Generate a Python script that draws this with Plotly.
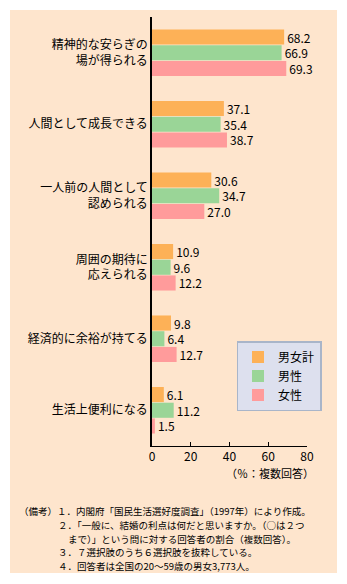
import plotly.graph_objects as go

categories = [
    "精神的な安らぎの<br>場が得られる",
    "人間として成長できる",
    "一人前の人間として<br>認められる",
    "周囲の期待に<br>応えられる",
    "経済的に余裕が持てる",
    "生活上便利になる",
]
series_names = ["男女計", "男性", "女性"]
total = [68.2, 37.1, 30.6, 10.9, 9.8, 6.1]
male = [66.9, 35.4, 34.7, 9.6, 6.4, 11.2]
female = [69.3, 38.7, 27.0, 12.2, 12.7, 1.5]
x_ticks = [0, 20, 40, 60, 80]
notes = [
    "（備考）１．内閣府「国民生活選好度調査」（1997年）により作成。",
    "２．「一般に、結婚の利点は何だと思いますか。（○は２つ",
    "まで）」という問に対する回答者の割合（複数回答）。",
    "３．７選択肢のうち６選択肢を抜粋している。",
    "４．回答者は全国の20～59歳の男女3,773人。",
]

colors = ["#FDB157", "#9AD597", "#FF9B9B"]
FONT = "Noto Sans CJK JP"
W, H = 347, 584

def px(x):
    return x / W

def py(y):
    return 1 - y / H

fig = go.Figure()
for name, vals, col in zip(series_names, [total, male, female], colors):
    fig.add_trace(go.Bar(
        y=categories, x=vals, name=name, orientation="h",
        marker=dict(color=col, line=dict(width=0)),
        texttemplate="%{x:.1f}", textposition="outside",
        textfont=dict(family=FONT, size=12, color="black"),
        constraintext="none", cliponaxis=False,
    ))

fig.add_shape(type="rect", xref="paper", yref="paper",
              x0=px(10), x1=px(337), y0=py(573), y1=py(10),
              fillcolor="#FEE5CD", line=dict(width=0), layer="below")

fig.add_annotation(text="（％：複数回答）", xref="paper", yref="paper",
                   x=px(316), y=py(473), xanchor="right", yanchor="middle",
                   showarrow=False, font=dict(family=FONT, size=11, color="black"))

note_x = [17, 56, 66, 56, 56]
note_y = [511, 524.8, 538.6, 552.4, 566.2]
for t, nx, ny in zip(notes, note_x, note_y):
    fig.add_annotation(text=t, xref="paper", yref="paper",
                       x=px(nx), y=py(ny), xanchor="left", yanchor="middle",
                       showarrow=False, font=dict(family=FONT, size=9.5, color="black"))

fig.update_layout(
    width=W, height=H,
    margin=dict(l=0, r=0, t=0, b=0),
    paper_bgcolor="white", plot_bgcolor="rgba(0,0,0,0)",
    barmode="group", bargap=0.34, bargroupgap=0.04,
    font=dict(family=FONT, size=12, color="black"),
    showlegend=True,
    legend=dict(x=px(279), y=py(376), xanchor="center", yanchor="middle",
                bgcolor="#DDE0EE", bordercolor="#A9B5C9", borderwidth=1.5,
                font=dict(family=FONT, size=12, color="black"),
                itemwidth=30, tracegroupgap=0, traceorder="normal"),
    xaxis=dict(domain=[px(152), px(307)], range=[0, 80], tickvals=x_ticks,
               showgrid=False, zeroline=False, showline=True, linecolor="black",
               linewidth=1, ticks="inside", ticklen=4, tickcolor="black",
               tickfont=dict(family=FONT, size=12, color="black"),
               automargin=False, fixedrange=True),
    yaxis=dict(domain=[py(446), py(17)], autorange="reversed",
               showgrid=False, zeroline=False, showline=True, linecolor="black",
               linewidth=1.5, ticks="", tickfont=dict(family=FONT, size=12, color="black"),
               automargin=False, fixedrange=True),
)

fig.write_html("out.html")
